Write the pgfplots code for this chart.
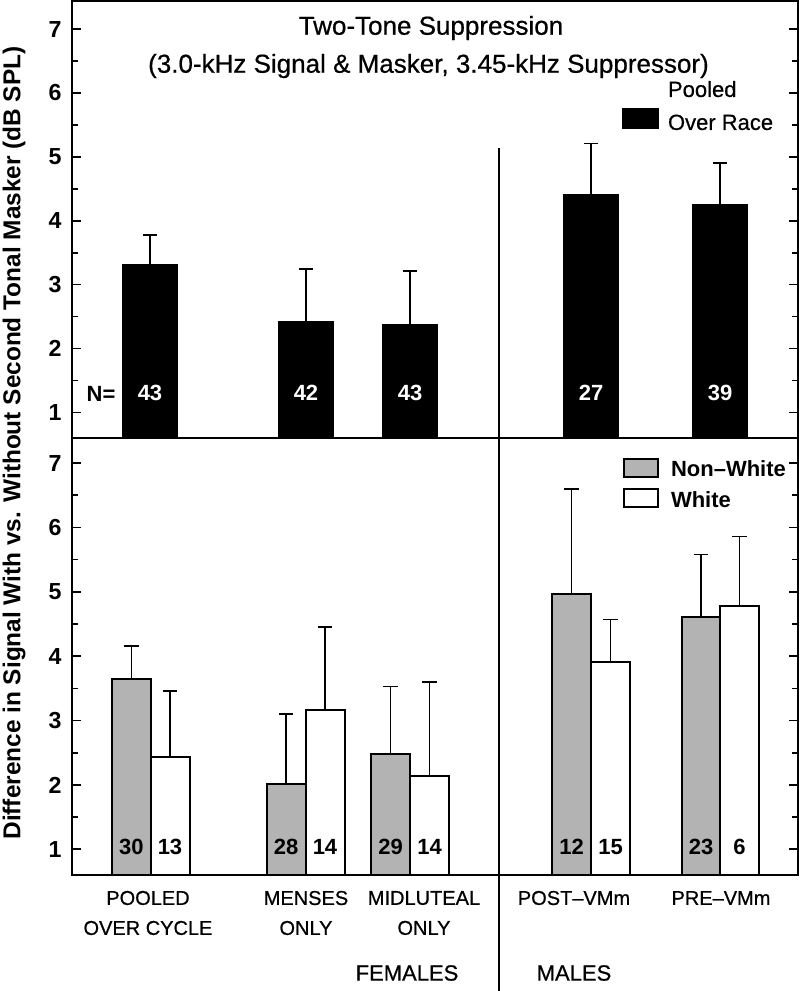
\documentclass[border=0pt]{standalone}
\usepackage{pgfplots}
\pgfplotsset{compat=1.18}
\usepackage{fontspec}
\setmainfont{Liberation Sans}
\newfontfamily\medfont[FakeBold=0.6]{Liberation Sans}
\definecolor{nwgray}{HTML}{B3B3B3}
\tikzset{nlab/.style={font=\bfseries\fontsize{11}{13}\selectfont}}
\begin{document}
\begin{tikzpicture}
\pgfplotsset{
  panel/.style={
    scale only axis, width=363pt, height=218.5pt,
    xmin=72, xmax=798,
    xtick=\empty,
    ytick={1,2,3,4,5,6,7},
    minor y tick num=1,
    tick align=inside,
    major tick length=4.5pt, minor tick length=3pt,
    every tick/.style={black, line width=0.8pt},
    axis line style={line width=1pt},
    /pgf/number format/assume math mode=true,
    yticklabel style={font=\bfseries\fontsize{11.6}{13}\selectfont, inner sep=0pt, xshift=-5pt},
  },
  errstyle/.style={error bars/.cd, y dir=plus, y explicit,
    error bar style={line width=0.9pt, black},
    error mark options={rotate=90, line width=0.9pt, mark size=3.6pt, black}},
}
% ---------- top panel ----------
\begin{axis}[panel, at={(36pt,-219pt)}, anchor=south west,
  ymin=0.6, ymax=7.44,
  legend style={at={(axis cs:622,6.30)}, anchor=north west, draw=none, fill=none,
    inner sep=0pt, outer sep=0pt, font=\medfont\fontsize{11}{16.5}\selectfont,
    nodes={inner sep=0pt}, column sep=4.5pt},
  legend cell align=left]
\addplot[ybar, bar width=54, fill=black, draw=black, line width=1pt,
  legend image code/.code={\draw[fill=black,draw=black] (0pt,-12.5pt) rectangle (17.5pt,-3pt);},
  errstyle]
  table[x=x, y=y, y error=e] {
  x   y    e
  150 3.31 0.47
  306 2.42 0.83
  410 2.37 0.85
  591 4.41 0.80
  720 4.24 0.66
  };
\addlegendentry{\begin{tabular}[b]{@{}l@{}}Pooled\\Over Race\end{tabular}}
\node[nlab] at (axis cs:101,1.29) {N=};
\node[nlab, white] at (axis cs:150,1.30) {43};
\node[nlab, white] at (axis cs:306,1.30) {42};
\node[nlab, white] at (axis cs:410,1.30) {43};
\node[nlab, white] at (axis cs:591,1.30) {27};
\node[nlab, white] at (axis cs:720,1.30) {39};
\end{axis}
% ---------- bottom panel ----------
\begin{axis}[panel, at={(36pt,-219pt)}, anchor=north west,
  ymin=0.6, ymax=7.39,
  legend style={at={(axis cs:623,7.08)}, anchor=north west, draw=none, fill=none,
    inner sep=0pt, outer sep=0pt, font=\bfseries\fontsize{11}{13}\selectfont,
    nodes={inner sep=0pt, text height=8pt, text depth=2pt}, column sep=6pt, row sep=3.8pt},
  legend cell align=left]
\addplot[ybar, bar width=39, fill=nwgray, draw=black, line width=1pt,
  legend image code/.code={\draw[fill=nwgray,draw=black,line width=1pt] (0pt,-3.05pt) rectangle (17pt,5.95pt);},
  errstyle]
  table[x=x, y=y, y error=e] {
  x     y    e
  131.4 3.65 0.51
  286   2.01 1.09
  390.5 2.48 1.05
  571.5 4.97 1.63
  701   4.61 0.97
  };
\addlegendentry{Non–White}
\addplot[ybar, bar width=39, fill=white, draw=black, line width=1pt,
  legend image code/.code={\draw[fill=white,draw=black,line width=1pt] (0pt,-3.05pt) rectangle (17pt,5.95pt);},
  errstyle]
  table[x=x, y=y, y error=e] {
  x     y    e
  170   2.43 1.03
  325   3.17 1.28
  429.5 2.14 1.46
  610.5 3.91 0.66
  739.5 4.78 1.08
  };
\addlegendentry{White}
\node[nlab] at (axis cs:131.4,1.035) {30};
\node[nlab] at (axis cs:170,1.035) {13};
\node[nlab] at (axis cs:286,1.035) {28};
\node[nlab] at (axis cs:325,1.035) {14};
\node[nlab] at (axis cs:390.5,1.035) {29};
\node[nlab] at (axis cs:429.5,1.035) {14};
\node[nlab] at (axis cs:571.5,1.035) {12};
\node[nlab] at (axis cs:610.5,1.035) {15};
\node[nlab] at (axis cs:701,1.035) {23};
\node[nlab] at (axis cs:739.5,1.035) {6};
\end{axis}
% ---------- free text (pixel coordinates) ----------
\begin{scope}[x=0.5pt, y=-0.5pt]
\draw[line width=1pt] (499,148) -- (499,991);
\node[font=\medfont\fontsize{13}{15}\selectfont] at (431,28) {Two-Tone Suppression};
\node[font=\medfont\fontsize{13}{15}\selectfont] at (428.5,66) {(3.0-kHz Signal \& Masker, 3.45-kHz Suppressor)};
\node[font=\bfseries\fontsize{12.2}{14}\selectfont, rotate=90] at (14,443) {Difference in Signal With vs. Without Second Tonal Masker (dB SPL)};
\node[font=\medfont\fontsize{10}{15}\selectfont, align=center] at (148,913) {POOLED\\OVER CYCLE};
\node[font=\medfont\fontsize{10}{15}\selectfont, align=center] at (306,913) {MENSES\\ONLY};
\node[font=\medfont\fontsize{10}{15}\selectfont, align=center] at (424,913) {MIDLUTEAL\\ONLY};
\node[font=\medfont\fontsize{10}{15}\selectfont] at (574,898) {POST–VMm};
\node[font=\medfont\fontsize{10}{15}\selectfont] at (721,898) {PRE–VMm};
\node[font=\medfont\fontsize{11}{13}\selectfont] at (407,973) {FEMALES};
\node[font=\medfont\fontsize{11}{13}\selectfont] at (574,973) {MALES};
\end{scope}
\pgfresetboundingbox
\path[use as bounding box] (0pt,0pt) rectangle (400pt,-495.5pt);
\end{tikzpicture}
\end{document}
